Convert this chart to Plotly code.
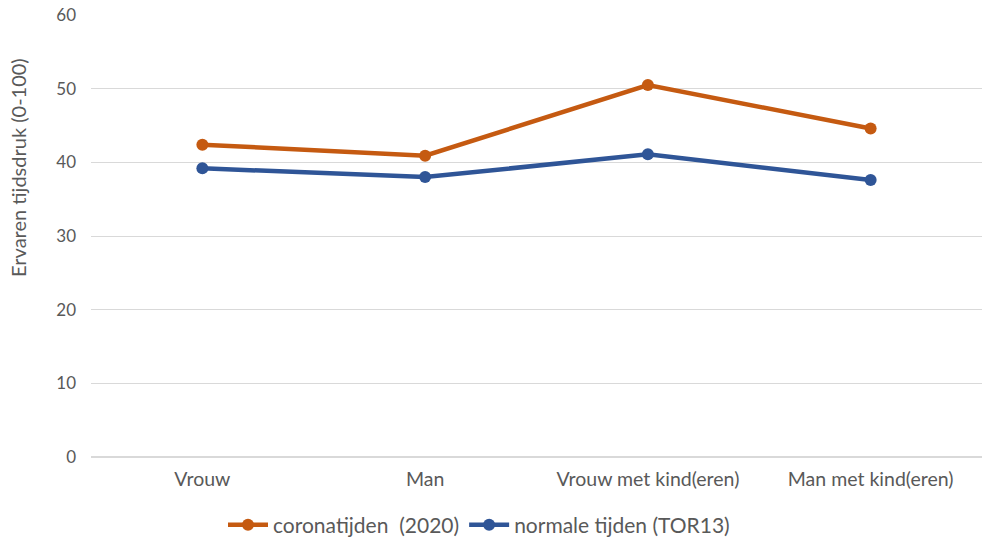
import plotly.graph_objects as go

categories = ["Vrouw", "Man", "Vrouw met kind(eren)", "Man met kind(eren)"]
corona_2020 = [42.4, 40.9, 50.5, 44.6]
normaal_tor13 = [39.2, 38.0, 41.1, 37.6]
y_ticks = [0, 10, 20, 30, 40, 50, 60]

ORANGE = "#C55A11"
BLUE = "#2F5597"
FONT = "Lato"
GREY = "#595959"

W, H = 983, 544
L, R, T, B = 91, 1, 15, 87
pw, ph = W - L - R, H - T - B


def px_to_paper(px_x, px_y):
    return (px_x - L) / pw, (H - B - px_y) / ph


fig = go.Figure()
fig.add_trace(go.Scatter(
    x=categories, y=corona_2020, mode="lines+markers",
    name="coronatijden\u00a0\u00a0(2020)",
    line=dict(color=ORANGE, width=4.5),
    marker=dict(color=ORANGE, size=12),
))
fig.add_trace(go.Scatter(
    x=categories, y=normaal_tor13, mode="lines+markers",
    name="normale tijden (TOR13)",
    line=dict(color=BLUE, width=4.5),
    marker=dict(color=BLUE, size=12),
))

lx, ly = px_to_paper(479, 525)
ax, ay = px_to_paper(18, 168)

fig.update_layout(
    width=W, height=H,
    margin=dict(l=L, r=R, t=T, b=B, autoexpand=False),
    plot_bgcolor="white", paper_bgcolor="white",
    font=dict(family=FONT, size=17, color=GREY),
    showlegend=True,
    legend=dict(orientation="h", x=lx, xanchor="center", y=ly, yanchor="middle",
                font=dict(family=FONT, size=21, color=GREY),
                itemwidth=40, tracegroupgap=0, traceorder="normal"),
    xaxis=dict(type="category", range=[-0.5, 3.5], showgrid=False, zeroline=False,
               showline=False, ticks="", tickfont=dict(family=FONT, size=19.5, color=GREY),
               ticklabelstandoff=8, automargin=False),
    yaxis=dict(range=[0, 60.01], tickvals=y_ticks, showgrid=True, gridcolor="#D9D9D9", gridwidth=1,
               zeroline=True, zerolinecolor="#D9D9D9", zerolinewidth=1.5, showline=False,
               ticks="", tickfont=dict(family=FONT, size=17, color=GREY), ticklabelstandoff=14,
               ticklabeloverflow="allow", automargin=False),
    annotations=[dict(text="Ervaren tijdsdruk (0-100)", textangle=-90, x=ax, y=ay,
                      xref="paper", yref="paper", xanchor="center", yanchor="middle",
                      showarrow=False,
                      font=dict(family=FONT, size=20, color=GREY))],
)

fig.write_html("out.html", config={"displayModeBar": False},
               post_script="document.body.style.margin='0';")
